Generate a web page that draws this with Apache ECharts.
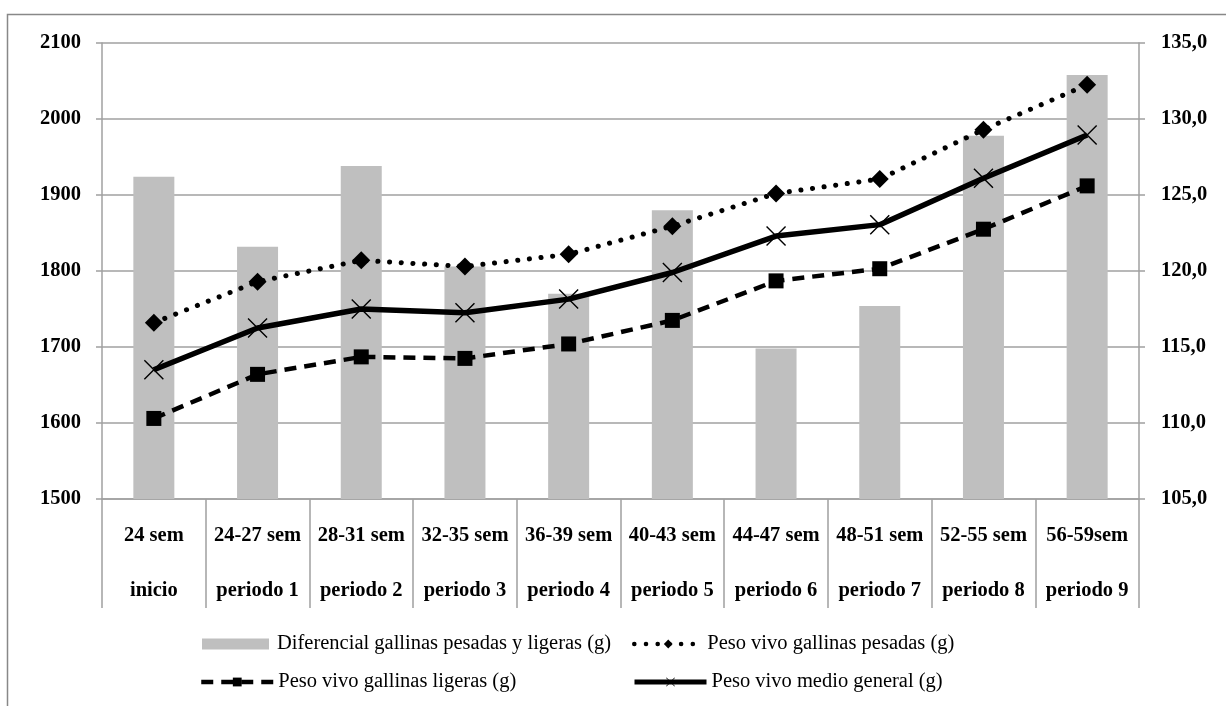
<!DOCTYPE html>
<html>
<head>
<meta charset="utf-8">
<script src="https://cdn.jsdelivr.net/npm/echarts@6/dist/echarts.min.js"></script>
<style>
html,body{margin:0;padding:0;background:#fff;}
#chart{width:1226px;height:706px;}
</style>
</head>
<body>
<div id="chart"></div>
<script>
var categoriesTop = ['24 sem','24-27 sem','28-31 sem','32-35 sem','36-39 sem','40-43 sem','44-47 sem','48-51 sem','52-55 sem','56-59sem'];
var categoriesBottom = ['inicio','periodo 1','periodo 2','periodo 3','periodo 4','periodo 5','periodo 6','periodo 7','periodo 8','periodo 9'];
var diferencial = [126.2,121.6,126.9,120.3,118.5,124.0,114.9,117.7,128.9,132.9];
var pesadas = [1732,1786,1814,1806,1822,1859,1902,1921,1986,2045];
var ligeras = [1606,1664,1687,1685,1704,1735,1787,1803,1855,1912];
var medio = [1670,1725,1750,1745,1763,1798,1846,1861,1922,1979];
var leftTicks = {min:1500, max:2100, interval:100};
var rightTicks = {min:105, max:135, interval:5};

var names = ['Diferencial gallinas pesadas y ligeras (g)','Peso vivo gallinas pesadas (g)','Peso vivo gallinas ligeras (g)','Peso vivo medio general (g)'];
var categories = categoriesTop.map(function(t,i){return t+'\n'+categoriesBottom[i];});
var serif = "'Liberation Serif','Times New Roman',serif";
var gridGray = '#a0a0a0';
var xPath = 'path://M0,5L5,0L50,45L95,0L100,5L55,50L100,95L95,100L50,55L5,100L0,95L45,50Z';

var chart = echarts.init(document.getElementById('chart'));
var legendText = {fontFamily:serif, fontSize:20.5, color:'#000', lineHeight:24};
var legendTextL = {fontFamily:serif, fontSize:20.5, color:'#000', lineHeight:24, padding:[0,0,0,3]};
chart.setOption({
  animation:false,
  backgroundColor:'#fff',
  graphic:[{type:'rect', shape:{x:7.5,y:14.5,width:1400,height:900}, style:{fill:'none',stroke:'#888',lineWidth:1.5}, silent:true}],
  grid:{left:102, right:87, top:43, bottom:207, containLabel:false},
  legend:[
    {data:[{name:names[0], icon:'rect'}], left:197, top:627, itemWidth:67, itemHeight:11, textStyle:legendTextL},
    {data:[names[2]], left:194, top:665, itemWidth:72, itemHeight:11, textStyle:legendText, lineStyle:{width:4.5}},
    {data:[names[1]], left:627, top:627, itemWidth:68, itemHeight:11, textStyle:legendText, lineStyle:{width:4.5}},
    {data:[names[3]], left:627, top:665, itemWidth:72, itemHeight:11, textStyle:legendText, lineStyle:{width:5}}
  ],
  xAxis:{
    type:'category', data:categories, boundaryGap:true,
    axisLine:{show:true, lineStyle:{color:gridGray, width:1.5}},
    axisTick:{show:true, alignWithLabel:false, interval:0, length:109, lineStyle:{color:gridGray, width:1.5}},
    axisLabel:{interval:0, margin:9, fontFamily:serif, fontWeight:'bold', fontSize:20.5, color:'#000', lineHeight:55}
  },
  yAxis:[
    {type:'value', position:'left', min:leftTicks.min, max:leftTicks.max, interval:leftTicks.interval,
     axisLine:{show:true, lineStyle:{color:gridGray, width:1.5}},
     axisTick:{show:true, length:6, lineStyle:{color:gridGray, width:1.5}},
     splitLine:{show:true, lineStyle:{color:gridGray, width:1.5}},
     axisLabel:{margin:21, fontFamily:serif, fontWeight:'bold', fontSize:20.5, color:'#000',
       formatter:function(v){return String(v);}}},
    {type:'value', position:'right', min:rightTicks.min, max:rightTicks.max, interval:rightTicks.interval,
     axisLine:{show:true, lineStyle:{color:gridGray, width:1.5}},
     axisTick:{show:true, length:6, lineStyle:{color:gridGray, width:1.5}},
     splitLine:{show:false},
     axisLabel:{margin:22, fontFamily:serif, fontWeight:'bold', fontSize:20.5, color:'#000',
       formatter:function(v){return v.toFixed(1).replace('.',',');}}}
  ],
  series:[
    {name:names[0], type:'bar', yAxisIndex:1, data:diferencial, barWidth:41, itemStyle:{color:'#bfbfbf'}},
    {name:names[1], type:'line', yAxisIndex:0, data:pesadas, symbol:'diamond', symbolSize:18,
     itemStyle:{color:'#000'}, lineStyle:{color:'#000', width:5, type:[0.1,11.6], cap:'round'}, z:3},
    {name:names[2], type:'line', yAxisIndex:0, data:ligeras, symbol:'rect', symbolSize:15,
     itemStyle:{color:'#000'}, lineStyle:{color:'#000', width:4.5, type:[12,8]}, z:3},
    {name:names[3], type:'line', yAxisIndex:0, data:medio, symbol:xPath, symbolSize:20,
     itemStyle:{color:'#000'}, lineStyle:{color:'#000', width:5.5}, z:4}
  ]
});
</script>
</body>
</html>
